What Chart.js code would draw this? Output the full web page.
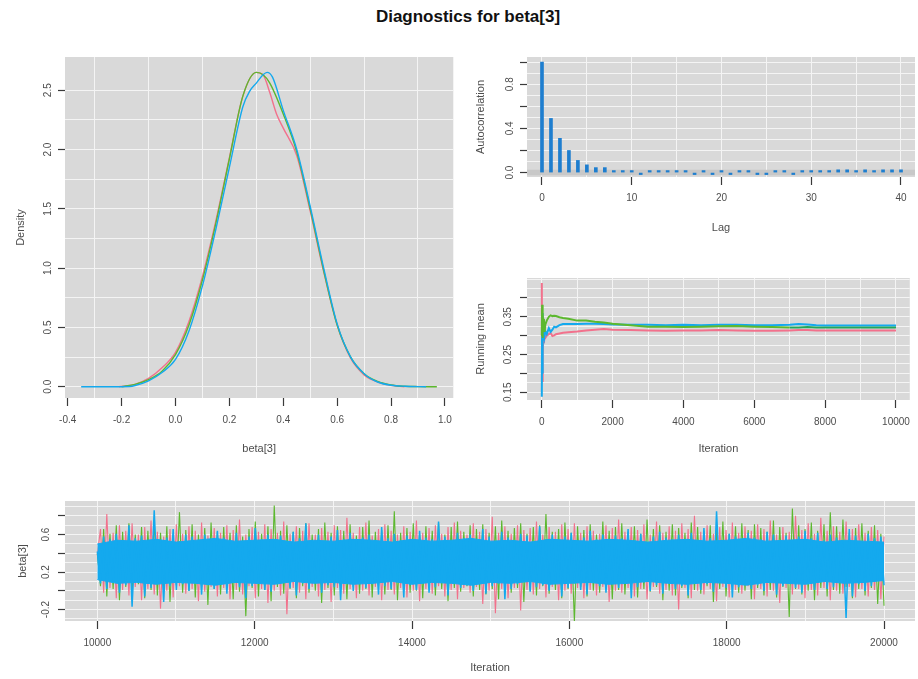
<!DOCTYPE html>
<html lang="en">
<head>
  <meta charset="UTF-8" />
  <title>Diagnostics for beta[3]</title>
  <script src="https://cdn.jsdelivr.net/npm/chart.js"></script>
  <style>
    body {
      margin: 0;
      width: 918px;
      height: 679px;
      position: relative;
      overflow: hidden;
      background: #fff;
      font-family: 'Liberation Sans', Arial, sans-serif;
    }
    h1 {
      position: absolute;
      left: 0;
      top: 7px;
      width: 936px;
      margin: 0;
      text-align: center;
      font-size: 17px;
      line-height: 20px;
      font-weight: bold;
      color: #111;
    }
    canvas { position: absolute; }
    #density { left: 0; top: 40px; }
    #acf { left: 460px; top: 40px; }
    #running { left: 460px; top: 260px; }
    #trace { left: 0; top: 490px; }
  </style>
</head>
<body>
  <h1>Diagnostics for beta[3]</h1>
  <canvas id="density" width="460" height="420"></canvas>
  <canvas id="acf" width="458" height="210"></canvas>
  <canvas id="running" width="458" height="200"></canvas>
  <canvas id="trace" width="918" height="189"></canvas>

  <script>
    // density of beta[3], one curve per chain
    const densPinkX = [-0.21, -0.15, -0.1, -0.05, 0, 0.05, 0.1, 0.15, 0.2, 0.25, 0.3, 0.325, 0.35, 0.375, 0.4, 0.45, 0.5, 0.55, 0.6, 0.65, 0.7, 0.75, 0.8, 0.85];
    const densPinkY = [0, 0.02, 0.07, 0.16, 0.29, 0.55, 0.93, 1.40, 1.93, 2.45, 2.65, 2.63, 2.48, 2.30, 2.18, 1.95, 1.48, 0.97, 0.52, 0.24, 0.10, 0.04, 0.012, 0];
    const densGreenX = [-0.2, -0.15, -0.1, -0.05, 0, 0.05, 0.1, 0.15, 0.2, 0.25, 0.3, 0.325, 0.35, 0.4, 0.45, 0.5, 0.55, 0.6, 0.65, 0.7, 0.75, 0.8, 0.85, 0.9, 0.97];
    const densGreenY = [0, 0.02, 0.06, 0.13, 0.27, 0.52, 0.90, 1.38, 1.92, 2.45, 2.65, 2.63, 2.56, 2.30, 1.98, 1.50, 0.98, 0.52, 0.25, 0.11, 0.045, 0.015, 0.004, 0.001, 0];
    const densBlueX = [-0.35, -0.25, -0.17, -0.15, -0.1, -0.05, 0, 0.05, 0.1, 0.15, 0.2, 0.25, 0.275, 0.3, 0.325, 0.34, 0.36, 0.4, 0.45, 0.5, 0.55, 0.6, 0.65, 0.7, 0.75, 0.8, 0.85, 0.93];
    const densBlueY = [0, 0, 0.002, 0.01, 0.05, 0.12, 0.23, 0.47, 0.85, 1.33, 1.85, 2.36, 2.49, 2.56, 2.63, 2.65, 2.61, 2.33, 2.00, 1.52, 1.00, 0.53, 0.25, 0.11, 0.04, 0.013, 0.004, 0];

    // autocorrelation by lag
    const acfLags = Array.from({ length: 41 }, (_, i) => i);
    const acfValues = [1.00, 0.49, 0.31, 0.20, 0.11, 0.07, 0.045, 0.045, 0.015, 0.015, 0.003, -0.015, 0.002, 0.001, 0.012, 0.003, 0.001, -0.01, 0.002, -0.01, 0.002, -0.01, 0.002, 0.002, -0.008, -0.01, 0.001, 0.002, -0.01, 0.001, 0.001, 0.002, 0.003, 0.025, 0.025, 0.015, 0.025, 0.015, 0.025, 0.025, 0.025];
    const acfBand = 0.025;

    // running mean per chain
    const rmIter = [1, 10, 20, 30, 45, 60, 80, 100, 140, 200, 250, 300, 350, 400, 500, 600, 750, 1000, 1250, 1500, 1750, 2000, 2500, 3000, 3500, 4000, 4500, 5000, 5500, 6000, 6500, 7000, 7250, 7500, 7750, 8000, 9000, 10000];
    const rmPink = [0.44, 0.18, 0.33, 0.25, 0.31, 0.28, 0.30, 0.294, 0.300, 0.304, 0.307, 0.299, 0.301, 0.304, 0.306, 0.308, 0.309, 0.311, 0.314, 0.316, 0.318, 0.316, 0.315, 0.314, 0.313, 0.314, 0.314, 0.315, 0.314, 0.313, 0.313, 0.314, 0.315, 0.315, 0.314, 0.314, 0.314, 0.314];
    const rmGreen = [0.30, 0.382, 0.294, 0.36, 0.32, 0.345, 0.31, 0.329, 0.340, 0.350, 0.354, 0.352, 0.353, 0.352, 0.349, 0.347, 0.345, 0.340, 0.340, 0.337, 0.335, 0.332, 0.328, 0.324, 0.324, 0.323, 0.324, 0.325, 0.326, 0.324, 0.323, 0.322, 0.322, 0.323, 0.322, 0.322, 0.322, 0.322];
    const rmBlue = [0.138, 0.36, 0.20, 0.34, 0.29, 0.325, 0.30, 0.312, 0.304, 0.320, 0.310, 0.316, 0.324, 0.322, 0.328, 0.331, 0.331, 0.331, 0.332, 0.332, 0.331, 0.330, 0.329, 0.329, 0.328, 0.329, 0.328, 0.329, 0.329, 0.328, 0.328, 0.329, 0.331, 0.330, 0.328, 0.327, 0.327, 0.327];

    // trace, iterations 10000-20000 (high/low swings of each chain)
    const traceBlue = [
      0.42, 0.08, 0.58, 0.02, 0.55, 0.10, 0.61, -0.02, 0.52, 0.06,
      0.70, -0.17, 0.56, 0.12, 0.59, -0.06, 0.50, 0.03, 0.86, 0.09,
      0.54, -0.12, 0.57, 0.05, 0.66, 0.01, 0.53, 0.07, 0.60, 0.00,
      0.58, 0.11, 0.51, -0.04, 0.60, 0.06, 0.55, 0.02, 0.64, 0.08,
      0.57, -0.03, 0.52, 0.10, 0.62, 0.04, 0.49, -0.08, 0.58, 0.05,
      0.67, 0.09, 0.55, 0.01, 0.60, -0.01, 0.53, 0.07, 0.59, 0.12,
      0.48, 0.03, 0.63, -0.05, 0.56, 0.08, 0.72, 0.02, 0.54, 0.10,
      0.60, -0.02, 0.51, 0.06, 0.58, 0.04, 0.65, -0.10, 0.55, 0.09,
      0.62, 0.00, 0.53, 0.11, 0.57, 0.03, 0.60, 0.07, 0.50, -0.04,
      0.68, 0.05, 0.56, 0.02, 0.61, 0.10, 0.54, -0.07, 0.59, 0.06,
      0.52, 0.01, 0.64, 0.08, 0.57, -0.02, 0.55, 0.04, 0.74, 0.09,
      0.58, -0.05, 0.51, 0.12, 0.62, 0.03, 0.56, 0.06, 0.60, 0.00,
      0.53, 0.10, 0.66, -0.03, 0.58, 0.05, 0.50, 0.08, 0.63, -0.09,
      0.57, 0.02, 0.54, 0.07, 0.61, 0.11, 0.59, -0.01, 0.52, 0.04,
      0.69, 0.06, 0.55, 0.00, 0.60, 0.09, 0.53, -0.06, 0.58, 0.03,
      0.62, 0.08, 0.49, 0.01, 0.57, -0.04, 0.64, 0.10, 0.55, 0.05,
      0.60, -0.02, 0.52, 0.07, 0.59, 0.03, 0.56, 0.12, 0.66, -0.08,
      0.54, 0.04, 0.61, 0.09, 0.51, 0.00, 0.58, 0.06, 0.63, -0.03,
      0.57, 0.11, 0.55, 0.02, 0.60, 0.05, 0.53, -0.05, 0.62, 0.08,
      0.50, 0.01, 0.67, 0.07, 0.56, -0.01, 0.85, 0.10, 0.54, 0.03,
      0.61, -0.07, 0.58, 0.04, 0.52, 0.09, 0.62, 0.02, 0.57, 0.06,
      0.55, 0.00, 0.63, 0.11, 0.60, -0.04, 0.53, 0.05, 0.59, 0.08,
      0.51, 0.03, 0.58, -0.02, 0.64, 0.07, 0.56, 0.01, 0.62, 0.10,
      0.54, 0.02, 0.60, 0.04, 0.57, 0.09, 0.52, -0.29, 0.66, -0.06,
      0.59, 0.07, 0.53, 0.00, 0.61, 0.05, 0.56, 0.11, 0.58, 0.06
    ];
    const tracePink = [
      0.38, 0.66, -0.02, 0.82, 0.03, 0.62, -0.08, 0.70, 0.01, 0.64,
      -0.05, 0.72, 0.04, 0.60, -0.10, 0.68, 0.02, 0.75, -0.04, 0.63,
      -0.19, 0.58, 0.00, 0.66, -0.07, 0.71, 0.05, 0.61, -0.03, 0.69,
      0.02, 0.64, -0.11, 0.73, -0.01, 0.59, 0.04, 0.67, -0.06, 0.62,
      0.03, 0.70, -0.09, 0.65, 0.01, 0.76, -0.04, 0.60, 0.05, 0.68,
      -0.08, 0.63, 0.02, 0.71, -0.13, 0.66, 0.00, 0.62, -0.05, 0.74,
      -0.25, 0.61, 0.03, 0.69, -0.02, 0.64, -0.09, 0.72, 0.04, 0.60,
      -0.06, 0.67, 0.01, 0.63, -0.12, 0.70, 0.03, 0.65, -0.03, 0.78,
      0.02, 0.62, -0.08, 0.68, 0.00, 0.73, -0.05, 0.59, 0.04, 0.66,
      -0.10, 0.71, 0.01, 0.64, -0.04, 0.60, 0.03, 0.69, -0.07, 0.63,
      0.00, 0.75, -0.11, 0.62, 0.02, 0.67, -0.03, 0.70, 0.05, 0.61,
      -0.06, 0.68, 0.01, 0.73, -0.09, 0.64, 0.03, 0.60, -0.02, 0.72,
      0.04, 0.63, -0.14, 0.66, 0.00, 0.79, -0.24, 0.62, 0.02, 0.69,
      -0.08, 0.61, 0.03, 0.70, -0.21, 0.65, 0.01, 0.67, -0.04, 0.74,
      0.02, 0.60, -0.07, 0.68, 0.04, 0.63, -0.10, 0.71, 0.00, 0.66,
      -0.03, 0.72, 0.03, 0.62, -0.08, 0.69, 0.01, 0.64, -0.05, 0.61,
      0.04, 0.70, -0.12, 0.67, 0.00, 0.76, -0.02, 0.63, 0.03, 0.68,
      -0.06, 0.65, 0.02, 0.71, -0.09, 0.60, 0.04, 0.74, -0.03, 0.62,
      0.01, 0.69, -0.05, 0.64, -0.20, 0.72, 0.03, 0.66, -0.08, 0.80,
      0.00, 0.63, -0.04, 0.70, 0.02, 0.61, -0.11, 0.68, 0.04, 0.65,
      -0.07, 0.73, 0.01, 0.62, -0.03, 0.69, 0.05, 0.64, -0.09, 0.71,
      0.02, 0.66, -0.06, 0.75, 0.00, 0.60, -0.13, 0.68, 0.03, 0.63,
      -0.04, 0.80, 0.02, 0.65, -0.08, 0.72, 0.01, 0.61, -0.05, 0.78,
      0.03, 0.64, -0.10, 0.69, 0.00, 0.63, -0.03, 0.74, 0.04, 0.66,
      -0.07, 0.71, 0.02, 0.62, -0.06, 0.68, 0.01, 0.65, -0.09, 0.58
    ];
    const traceGreen = [
      0.40, 0.05, 0.66, -0.06, 0.61, 0.02, 0.70, -0.10, 0.63, 0.04,
      0.72, -0.03, 0.60, 0.07, 0.68, -0.08, 0.64, 0.01, 0.75, -0.05,
      0.62, 0.03, 0.69, -0.12, 0.59, 0.06, 0.84, -0.02, 0.65, 0.00,
      0.71, -0.07, 0.60, 0.04, 0.67, -0.15, 0.73, 0.02, 0.63, -0.04,
      0.68, 0.05, 0.62, -0.09, 0.70, -0.01, 0.58, -0.27, 0.66, 0.03,
      0.74, -0.06, 0.61, 0.01, 0.69, -0.11, 0.91, 0.04, 0.64, -0.03,
      0.70, 0.02, 0.63, -0.08, 0.67, 0.05, 0.72, -0.02, 0.60, 0.00,
      0.66, -0.13, 0.73, 0.03, 0.62, -0.05, 0.69, 0.01, 0.64, -0.09,
      0.71, 0.04, 0.59, -0.03, 0.68, 0.02, 0.75, -0.07, 0.63, 0.05,
      0.65, -0.04, 0.70, 0.01, 0.85, -0.10, 0.62, 0.03, 0.67, -0.02,
      0.72, 0.00, 0.61, -0.08, 0.69, 0.04, 0.64, -0.05, 0.73, 0.02,
      0.60, -0.11, 0.68, 0.03, 0.74, -0.01, 0.63, 0.05, 0.70, -0.06,
      0.66, 0.01, 0.71, -0.04, 0.62, 0.02, 0.69, -0.09, 0.75, 0.04,
      0.64, -0.02, 0.67, 0.03, 0.72, -0.12, 0.61, 0.00, 0.68, -0.05,
      0.70, 0.05, 0.82, -0.03, 0.63, 0.01, 0.66, -0.08, 0.73, 0.02,
      0.62, -0.33, 0.69, 0.04, 0.65, -0.06, 0.71, 0.00, 0.60, -0.02,
      0.74, 0.03, 0.64, -0.09, 0.68, 0.01, 0.72, -0.04, 0.63, 0.05,
      0.69, -0.07, 0.61, 0.02, 0.76, -0.01, 0.66, 0.04, 0.70, -0.10,
      0.63, 0.00, 0.71, -0.05, 0.67, 0.03, 0.62, -0.08, 0.73, 0.01,
      0.68, -0.03, 0.64, 0.05, 0.70, -0.12, 0.66, 0.02, 0.74, -0.06,
      0.61, 0.04, 0.69, -0.02, 0.72, 0.00, 0.65, -0.09, 0.71, 0.03,
      0.67, -0.05, 0.63, 0.01, 0.75, -0.07, 0.68, 0.04, 0.62, -0.28,
      0.88, 0.02, 0.70, -0.04, 0.66, 0.00, 0.73, -0.10, 0.64, 0.03,
      0.71, -0.06, 0.84, 0.01, 0.69, -0.03, 0.76, 0.04, 0.62, -0.08,
      0.67, 0.02, 0.72, -0.05, 0.64, 0.03, 0.70, -0.14, 0.61, -0.16
    ];
    // edges of the solid blue core of the trace, every 250 iterations
    const blueCoreTop = [0.50, 0.54, 0.53, 0.55, 0.52, 0.54, 0.56, 0.53, 0.54, 0.55, 0.52, 0.54, 0.53, 0.55, 0.54, 0.52, 0.55, 0.53, 0.54, 0.56, 0.53, 0.54, 0.52, 0.55, 0.54, 0.53, 0.55, 0.54, 0.52, 0.54, 0.55, 0.53, 0.54, 0.56, 0.53, 0.54, 0.55, 0.52, 0.54, 0.53, 0.52];
    const blueCoreBottom = [0.12, 0.08, 0.09, 0.07, 0.09, 0.08, 0.06, 0.09, 0.08, 0.07, 0.10, 0.08, 0.09, 0.07, 0.08, 0.10, 0.07, 0.09, 0.08, 0.06, 0.09, 0.08, 0.10, 0.07, 0.08, 0.09, 0.07, 0.08, 0.10, 0.08, 0.07, 0.09, 0.08, 0.06, 0.09, 0.08, 0.07, 0.10, 0.08, 0.09, 0.11];
    const traceStart = 10000;
    const traceEnd = 20000;

    // axis ticks: gridlines, tick marks and labelled ticks
    const densGridX = [-0.3, -0.1, 0.1, 0.3, 0.5, 0.7, 0.9];
    const densTickX = [-0.4, -0.2, 0, 0.2, 0.4, 0.6, 0.8, 1.0];
    const densGridY = [0, 0.25, 0.5, 0.75, 1, 1.25, 1.5, 1.75, 2, 2.25, 2.5];
    const densTickY = [0, 0.5, 1, 1.5, 2, 2.5];
    const acfGridX = [0, 5, 10, 15, 20, 25, 30, 35, 40];
    const acfTickX = [0, 10, 20, 30, 40];
    const acfGridY = [0, 0.1, 0.2, 0.3, 0.4, 0.5, 0.6, 0.7, 0.8, 0.9, 1.0];
    const acfMarkY = [0, 0.2, 0.4, 0.6, 0.8, 1.0];
    const acfLabelY = [0, 0.4, 0.8];
    const rmGridX = [0, 1000, 2000, 3000, 4000, 5000, 6000, 7000, 8000, 9000, 10000];
    const rmTickX = [0, 2000, 4000, 6000, 8000, 10000];
    const rmGridY = [0.15, 0.175, 0.2, 0.225, 0.25, 0.275, 0.3, 0.325, 0.35, 0.375, 0.4, 0.425, 0.45];
    const rmMarkY = [0.15, 0.2, 0.25, 0.3, 0.35, 0.4];
    const rmLabelY = [0.15, 0.25, 0.35];
    const trGridX = [10000, 11000, 12000, 13000, 14000, 15000, 16000, 17000, 18000, 19000, 20000];
    const trTickX = [10000, 12000, 14000, 16000, 18000, 20000];
    const trGridY = [-0.3, -0.2, -0.1, 0, 0.1, 0.2, 0.3, 0.4, 0.5, 0.6, 0.7, 0.8, 0.9];
    const trMarkY = [-0.2, 0, 0.2, 0.4, 0.6, 0.8];
    const trLabelY = [-0.2, 0.2, 0.6];

    const pinkCol = '#F2718C';
    const greenCol = '#5CB82E';
    const darkGreenCol = '#23A65A';
    const blueCol = '#14A9EE';
    const acfCol = '#1E7ECF';
    const FONT = "'Liberation Sans', Arial, sans-serif";

    const near = (arr, v) => arr.some(a => Math.abs(a - v) < 1e-6);

    const panelBg = {
      id: 'panelBg',
      beforeDraw(chart) {
        const { ctx, chartArea: a } = chart;
        ctx.save();
        ctx.fillStyle = '#D9D9D9';
        ctx.fillRect(a.left, a.top, a.right - a.left, a.bottom - a.top);
        ctx.restore();
      }
    };

    function axis(o) {
      const all = [...new Set([...o.grid, ...o.marks].map(v => +v.toFixed(6)))].sort((a, b) => a - b);
      return {
        type: 'linear',
        min: o.min,
        max: o.max,
        offset: false,
        afterBuildTicks: s => { s.ticks = all.map(v => ({ value: v })); },
        afterFit: s => { if (s.isHorizontal()) s.height = o.size; else s.width = o.size; },
        border: { display: false },
        grid: {
          offset: false,
          color: c => (c.tick && near(o.grid, c.tick.value)) ? '#F4F4F4' : 'rgba(0,0,0,0)',
          lineWidth: 1,
          drawTicks: true,
          tickLength: o.tl,
          tickWidth: 1.2,
          tickColor: c => (c.tick && near(o.marks, c.tick.value)) ? '#3A3A3A' : 'rgba(0,0,0,0)'
        },
        ticks: {
          autoSkip: false,
          padding: o.pad,
          color: '#4D4D4D',
          font: { size: 10, family: FONT },
          minRotation: o.rot || 0,
          maxRotation: o.rot || 0,
          crossAlign: o.rot ? 'center' : 'near',
          callback: v => near(o.labels, v) ? o.fmt(v) : ''
        },
        title: {
          display: true,
          text: o.title,
          color: '#4D4D4D',
          font: { size: 11, family: FONT },
          padding: o.titlePad
        }
      };
    }

    function baseOptions(padding, x, y) {
      return {
        responsive: false,
        animation: false,
        events: [],
        layout: { padding },
        plugins: { legend: { display: false }, tooltip: { enabled: false } },
        elements: { point: { radius: 0 } },
        scales: { x, y }
      };
    }

    const pairs = (xs, ys) => xs.map((x, i) => ({ x, y: ys[i] }));
    const traceData = ys => ys.map((y, i) => ({ x: traceStart + i * (traceEnd - traceStart) / (ys.length - 1), y }));

    // density
    new Chart(document.getElementById('density'), {
      type: 'line',
      data: {
        datasets: [
          { data: pairs(densBlueX, densBlueY), borderColor: blueCol, borderWidth: 1.4, cubicInterpolationMode: 'monotone' },
          { data: pairs(densGreenX, densGreenY), borderColor: greenCol, borderWidth: 1.4, cubicInterpolationMode: 'monotone' },
          { data: pairs(densPinkX, densPinkY), borderColor: pinkCol, borderWidth: 1.4, cubicInterpolationMode: 'monotone' }
        ]
      },
      options: baseOptions(
        { top: 17, right: 5, left: 0, bottom: 0 },
        axis({ min: -0.41, max: 1.031, grid: densGridX, marks: densTickX, labels: densTickX, fmt: v => v.toFixed(1),
               title: 'beta[3]', size: 62, tl: 8, pad: 8, titlePad: { top: 0, bottom: 4 } }),
        axis({ min: -0.095, max: 2.78, grid: densGridY, marks: densTickY, labels: densTickY, fmt: v => v.toFixed(1),
               title: 'Density', size: 65, tl: 7, pad: 3, rot: 90, titlePad: { top: 14, bottom: 0 } })
      ),
      plugins: [panelBg]
    });

    // autocorrelation
    const acfXMin = -1.67, acfXMax = 41.56;
    new Chart(document.getElementById('acf'), {
      type: 'bar',
      data: {
        datasets: [
          { data: pairs(acfLags, acfValues), backgroundColor: acfCol, barThickness: 3, minBarLength: 2, order: 1 },
          { type: 'line', data: [{ x: acfXMin, y: acfBand }, { x: acfXMax, y: acfBand }], borderWidth: 0,
            backgroundColor: '#C8C8C8', fill: { value: -acfBand }, order: 2 }
        ]
      },
      options: baseOptions(
        { top: 17, right: 3, left: 0, bottom: 0 },
        axis({ min: acfXMin, max: acfXMax, grid: acfGridX, marks: acfTickX, labels: acfTickX, fmt: v => String(v),
               title: 'Lag', size: 73, tl: 8, pad: 7, titlePad: { top: 0, bottom: 15 } }),
        axis({ min: -0.04, max: 1.046, grid: acfGridY, marks: acfMarkY, labels: acfLabelY, fmt: v => v.toFixed(1),
               title: 'Autocorrelation', size: 67, tl: 7, pad: 3, rot: 90, titlePad: { top: 14, bottom: 0 } })
      ),
      plugins: [panelBg]
    });

    // running mean
    new Chart(document.getElementById('running'), {
      type: 'line',
      data: {
        datasets: [
          { data: pairs(rmIter, rmGreen), borderColor: greenCol, borderWidth: 2,
            segment: { borderColor: c => c.p0.parsed.x >= 6800 ? darkGreenCol : undefined } },
          { data: pairs(rmIter, rmBlue), borderColor: blueCol, borderWidth: 2 },
          { data: pairs(rmIter, rmPink), borderColor: pinkCol, borderWidth: 2 }
        ]
      },
      options: baseOptions(
        { top: 18, right: 3, left: 0, bottom: 0 },
        axis({ min: -417, max: 10389, grid: rmGridX, marks: rmTickX, labels: rmTickX, fmt: v => String(v),
               title: 'Iteration', size: 60, tl: 8, pad: 8, titlePad: { top: 0, bottom: 4 } }),
        axis({ min: 0.1295, max: 0.453, grid: rmGridY, marks: rmMarkY, labels: rmLabelY, fmt: v => v.toFixed(2),
               title: 'Running mean', size: 67, tl: 7, pad: 2, rot: 90, titlePad: { top: 14, bottom: 0 } })
      ),
      plugins: [panelBg]
    });

    // trace: blue chain on top, with its solid core filled between the core edges
    new Chart(document.getElementById('trace'), {
      type: 'line',
      data: {
        datasets: [
          { data: traceData(traceBlue), borderColor: blueCol, borderWidth: 1.5, borderJoinStyle: 'bevel' },
          { data: traceData(blueCoreTop), borderColor: blueCol, borderWidth: 1, backgroundColor: blueCol, fill: '+1' },
          { data: traceData(blueCoreBottom), borderColor: blueCol, borderWidth: 1 },
          { data: traceData(traceGreen), borderColor: greenCol, borderWidth: 1.1, borderJoinStyle: 'bevel' },
          { data: traceData(tracePink), borderColor: pinkCol, borderWidth: 1.1, borderJoinStyle: 'bevel' }
        ]
      },
      options: baseOptions(
        { top: 11, right: 3, left: 0, bottom: 0 },
        axis({ min: 9589, max: 20394, grid: trGridX, marks: trTickX, labels: trTickX, fmt: v => String(v),
               title: 'Iteration', size: 58, tl: 8, pad: 8, titlePad: { top: 0, bottom: 4 } }),
        axis({ min: -0.322, max: 0.959, grid: trGridY, marks: trMarkY, labels: trLabelY, fmt: v => v.toFixed(1),
               title: 'beta[3]', size: 65, tl: 7, pad: 3, rot: 90, titlePad: { top: 16, bottom: 0 } })
      ),
      plugins: [panelBg]
    });
  </script>
</body>
</html>
